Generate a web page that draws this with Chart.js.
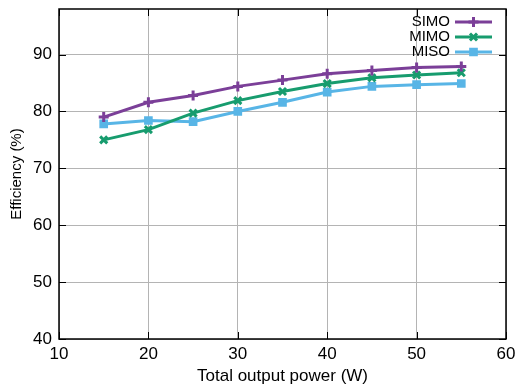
<!DOCTYPE html>
<html>
<head>
<meta charset="utf-8">
<script src="https://cdn.jsdelivr.net/npm/chart.js@4/dist/chart.umd.min.js"></script>
<style>
  body { margin: 0; background: #fff; }
  canvas { display: block; }
</style>
</head>
<body>
<canvas id="chart" width="520" height="387"></canvas>
<script>
const power = [15, 20, 25, 30, 35, 40, 45, 50, 55];
const simo = [79.0, 81.6, 82.8, 84.4, 85.5, 86.6, 87.2, 87.7, 87.9];
const mimo = [75.0, 76.8, 79.7, 81.9, 83.5, 84.9, 85.9, 86.4, 86.8];
const miso = [77.8, 78.4, 78.2, 80.0, 81.6, 83.4, 84.4, 84.7, 84.9];
const seriesNames = ['SIMO', 'MIMO', 'MISO'];

const FONT = 'Liberation Sans, Arial, sans-serif';

const toPoints = (vals) => vals.map((v, i) => ({ x: power[i], y: v }));

const makeSet = (label, vals, color, style, r) => ({
    label: label,
    data: toPoints(vals),
    borderColor: color,
    backgroundColor: color,
    borderWidth: 3,
    pointStyle: style,
    pointRadius: r,
    pointBorderWidth: 3,
    pointBackgroundColor: color,
    pointBorderColor: color,
    tension: 0
});

// inward tick marks on all four sides, plus the legend in the top right corner
const frame = {
    id: 'frame',
    afterDatasetsDraw(chart) {
        const { ctx, chartArea: a, scales } = chart;
        ctx.save();
        ctx.strokeStyle = '#000';
        ctx.lineWidth = 1;
        scales.x.ticks.forEach(t => {
            const px = Math.round(scales.x.getPixelForValue(t.value)) + 0.5;
            ctx.beginPath();
            ctx.moveTo(px, a.bottom); ctx.lineTo(px, a.bottom - 7);
            ctx.moveTo(px, a.top); ctx.lineTo(px, a.top + 7);
            ctx.stroke();
        });
        scales.y.ticks.forEach(t => {
            const py = Math.round(scales.y.getPixelForValue(t.value)) + 0.5;
            ctx.beginPath();
            ctx.moveTo(a.left, py); ctx.lineTo(a.left + 7, py);
            ctx.moveTo(a.right, py); ctx.lineTo(a.right - 7, py);
            ctx.stroke();
        });
        ctx.lineWidth = 1.5;
        ctx.strokeRect(a.left, a.top, a.right - a.left, a.bottom - a.top);

        // legend
        ctx.font = '15px ' + FONT;
        ctx.textAlign = 'right';
        ctx.textBaseline = 'middle';
        chart.data.datasets.forEach((ds, i) => {
            const y = 22 + i * 15;
            const x0 = 455, x1 = 492;
            ctx.fillStyle = '#000';
            ctx.fillText(ds.label, 450, y);
            ctx.strokeStyle = ds.borderColor;
            ctx.fillStyle = ds.borderColor;
            ctx.lineWidth = 3;
            ctx.beginPath();
            ctx.moveTo(x0, y); ctx.lineTo(x1, y);
            ctx.stroke();
            Chart.helpers.drawPoint(ctx, {
                pointStyle: ds.pointStyle,
                radius: ds.pointRadius,
                rotation: 0,
                borderWidth: 3
            }, (x0 + x1) / 2, y);
        });
        ctx.restore();
    }
};

new Chart(document.getElementById('chart'), {
    type: 'line',
    data: {
        datasets: [
            makeSet(seriesNames[0], simo, '#7b3f98', 'cross', 5),
            makeSet(seriesNames[1], mimo, '#179c6e', 'crossRot', 5),
            makeSet(seriesNames[2], miso, '#58b5e6', 'rect', 4)
        ]
    },
    options: {
        responsive: false,
        animation: false,
        layout: { padding: { top: 9, right: 14, left: 0, bottom: 0 } },
        plugins: { legend: { display: false }, tooltip: { enabled: false } },
        scales: {
            x: {
                type: 'linear',
                min: 10, max: 60,
                ticks: { stepSize: 10, color: '#000', font: { family: FONT, size: 17 }, padding: 5, maxRotation: 0 },
                grid: { color: '#b4b4b4', lineWidth: 1, drawTicks: false },
                border: { display: false },
                title: { display: true, text: 'Total output power (W)', color: '#000', font: { family: FONT, size: 17 }, padding: { top: 0, bottom: 0 } },
                afterFit(s) { s.height = 48; s.paddingLeft = 0; s.paddingRight = 0; }
            },
            y: {
                min: 40, max: 98,
                ticks: { stepSize: 10, color: '#000', font: { family: FONT, size: 17 }, padding: 7 },
                afterBuildTicks(s) { s.ticks = s.ticks.filter(t => t.value % 10 === 0); },
                grid: { color: '#b4b4b4', lineWidth: 1, drawTicks: false },
                border: { display: false },
                title: { display: true, text: 'Efficiency (%)', color: '#000', font: { family: FONT, size: 15 }, padding: { top: 8, bottom: 4 } },
                afterFit(s) { s.width = 59; s.paddingTop = 0; s.paddingBottom = 0; }
            }
        }
    },
    plugins: [frame]
});
</script>
</body>
</html>
